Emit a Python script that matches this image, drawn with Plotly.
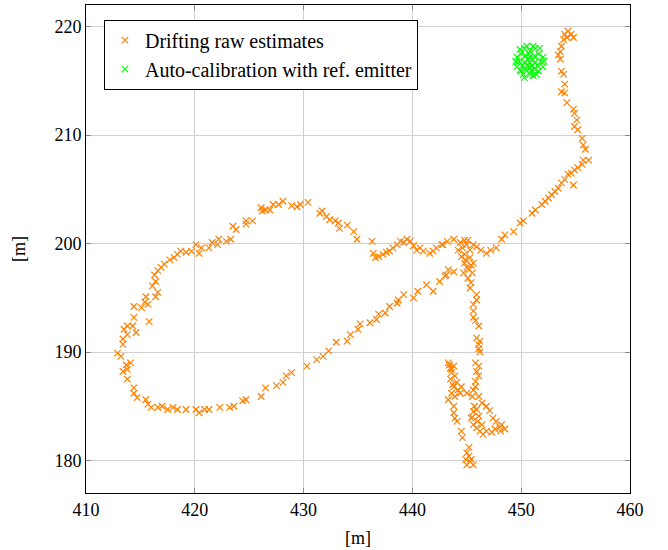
import plotly.graph_objects as go

raw_pts = [
    # top right descent
    (454.3,219.6),(454.6,219.3),(454.0,219.3),(454.8,219.0),(453.9,218.8),(454.2,219.0),(453.7,218.2),
    (453.6,217.7),(453.4,217.4),(453.6,217.0),(453.7,215.9),(453.9,215.6),(454.0,214.7),(453.7,214.0),
    (454.0,213.9),(454.2,213.0),(454.8,212.4),(454.9,212.0),(455.1,211.4),(454.9,210.8),(455.2,210.5),
    (455.6,209.7),(455.7,209.1),(455.9,208.7),(456.2,207.7),(455.7,207.7),(455.6,207.3),(455.2,207.0),
    (454.9,206.8),(454.6,206.5),(454.3,206.4),(454.0,205.9),(453.7,205.6),(454.8,205.4),(453.4,205.1),
    (453.1,204.8),(452.8,204.5),(452.5,204.2),(452.2,203.9),(451.9,203.6),(451.3,203.1),(451.0,202.8),
    (450.2,202.1),(449.9,201.9),(449.3,201.1),(448.5,200.8),(448.2,200.4),(447.7,199.6),(447.2,199.4),
    (446.8,199.1),(446.3,199.4),(445.9,199.7),
    # junction and leftwards along the top
    (445.6,199.9),(445.3,199.4),(445.0,199.9),(444.4,200.1),(443.8,200.4),(444.8,200.3),(443.2,200.2),
    (442.8,199.9),(442.7,199.9),(442.2,199.6),(441.9,199.3),(441.6,199.1),(441.0,199.3),(440.7,199.6),
    (440.4,199.4),(440.1,199.8),(439.8,200.2),(439.5,200.4),(439.2,200.1),(438.9,200.2),(438.6,199.9),
    (438.2,199.6),(437.9,199.3),(437.6,199.2),(437.3,199.0),(436.9,198.8),(436.6,198.7),(436.4,199.1),
    (436.3,200.2),(434.9,200.4),(434.6,201.1),(434.0,201.7),(433.3,201.4),(433.2,201.9),(432.9,202.1),
    (432.4,202.2),(432.1,202.5),(431.7,203.0),(431.5,202.8),(430.4,203.8),(429.7,203.6),(429.4,203.4),
    (428.9,203.5),(428.1,203.9),(427.7,203.6),(427.2,203.6),(426.9,203.1),(426.5,203.1),(426.1,203.3),
    (426.2,203.0),(425.3,202.1),(424.7,202.1),(424.7,201.8),(423.8,201.3),(423.5,201.6),(423.3,200.4),
    (422.9,200.2),(422.2,200.4),(422.1,199.9),(421.6,200.1),(421.3,199.6),(420.6,199.6),(420.4,199.1),
    (420.1,199.9),(419.7,199.3),(419.2,199.2),(418.7,199.3),(418.4,199.0),(418.1,198.7),(417.7,198.5),
    (417.2,198.1),(416.9,197.8),(416.6,197.5),(416.3,197.1),(416.4,196.5),(416.1,196.1),(416.6,195.5),
    (416.4,195.1),(415.5,195.1),(415.4,194.6),(415.7,194.4),(415.1,194.1),(414.4,194.2),(414.4,193.2),
    (415.8,192.8),(413.8,192.4),(414.3,192.4),(413.5,192.1),(414.6,191.8),(413.8,191.6),(413.4,191.2),
    (413.4,190.7),(412.9,189.9),(413.2,189.6),(413.7,188.8),(414.1,189.0),(413.4,188.2),(413.8,188.4),
    (413.8,187.5),(414.4,186.7),(414.4,186.2),(414.7,185.8),(415.5,185.6),(415.7,185.2),(416.0,184.9),
    (416.6,184.9),(417.0,185.0),(417.5,184.7),(418.0,184.9),(418.4,184.7),(419.2,184.7),(420.1,184.7),
    (420.4,184.4),(420.9,184.7),(421.3,184.7),(422.3,184.9),(423.2,184.9),(423.6,185.0),(424.4,185.5),
    (424.7,185.6),(426.1,185.9),(426.5,186.7),(427.5,186.9),(428.1,187.2),(428.4,187.8),(428.9,188.1),
    (430.3,188.7),(431.2,189.3),(431.8,189.6),(432.3,190.1),(433.0,190.9),(434.0,191.0),(434.3,191.6),
    (435.0,192.1),(435.2,192.6),(436.1,192.7),(436.7,193.0),(436.9,193.5),(437.5,193.6),(437.9,194.2),
    (438.6,194.5),(438.7,194.8),(439.2,195.3),(440.1,195.0),(440.5,195.6),(441.3,196.2),(441.9,195.6),
    (442.5,196.5),(443.1,197.1),(443.3,197.6),(443.0,197.0),(443.8,197.4),(444.7,197.3),
    # dense junction
    (444.5,198.8),(444.8,199.0),(445.3,198.7),(444.8,198.2),(445.6,198.2),(445.0,197.8),(445.5,197.3),
    (444.6,199.6),(445.1,200.3),(444.2,199.4),(445.4,198.0),(444.9,198.5),(445.2,197.6),
    # descent along x~446
    (445.1,196.8),(445.4,196.4),(445.3,195.9),(445.9,195.3),(445.9,194.8),(445.6,194.4),(445.6,193.8),
    (445.6,193.2),(445.8,192.9),(446.1,192.4),(445.9,191.3),(446.2,191.0),(446.1,190.7),(446.1,190.3),
    (446.2,190.0),(445.8,189.0),(446.1,188.7),(445.9,188.2),(446.1,187.8),(445.8,187.3),(445.8,186.8),
    (445.6,186.5),(446.1,185.9),(446.4,185.3),(446.8,185.0),(447.1,184.6),(447.4,183.9),(447.7,183.6),
    (448.2,183.3),(448.5,182.9),(448.1,182.7),(447.6,182.9),(447.3,182.6),(446.8,182.7),(446.5,182.4),
    (446.2,182.7),(445.9,183.0),(445.6,183.3),(445.4,183.9),(445.6,184.5),(445.9,184.7),(446.1,184.1),
    (446.4,183.3),(445.7,185.0),(445.5,184.0),(446.0,183.6),(448.0,183.1),
    # left cluster
    (443.3,189.0),(443.5,188.5),(443.8,188.7),(443.6,188.1),(443.9,187.8),(443.5,187.5),(444.1,187.2),
    (443.8,186.8),(444.5,186.8),(444.4,186.2),(443.6,186.2),(443.9,185.9),(443.3,185.6),(445.0,186.2),
    (445.5,185.9),(443.4,188.8),(443.7,187.0),(444.2,186.5),(443.6,188.4),
    # down to the bottom
    (443.8,185.0),(443.8,184.4),(443.9,183.9),(444.1,183.6),(444.5,182.7),(444.6,182.1),(445.2,181.2),
    (445.0,180.7),(444.9,180.1),(445.4,180.1),(445.6,179.6),(445.0,179.6),(445.3,179.9),(445.2,180.4),
]
raw_x = [p[0] for p in raw_pts]
raw_y = [p[1] for p in raw_pts]

ref_pts = [
    (450.8,216.7),(450.3,216.7),(451.3,216.7),(450.8,217.2),(450.8,216.2),(450.4,217.3),(451.2,217.3),
    (450.4,216.1),(451.2,216.1),(449.8,216.8),(451.8,216.8),(450.0,217.5),(451.6,217.5),(450.0,215.9),
    (451.6,215.9),(450.8,217.8),(450.8,215.6),(450.3,218.0),(451.3,218.0),(450.2,215.6),(451.4,215.6),
    (449.6,217.2),(452.0,217.2),(449.6,216.3),(452.0,216.3),(449.5,216.8),(451.0,216.9),(450.6,216.5),
    (450.6,217.0),(451.0,216.4),(450.9,215.9),(450.7,217.5),(449.9,217.9),(451.7,218.0),(451.1,215.5),
    (449.9,216.0),(452.1,216.8),(451.5,216.4),(450.1,216.4),(450.5,218.2),(451.1,218.2),(450.3,215.3),
]
ref_x = [p[0] for p in ref_pts]
ref_y = [p[1] for p in ref_pts]

x_ticks = [410, 420, 430, 440, 450, 460]
y_ticks = [180, 190, 200, 210, 220]

SERIF = "Liberation Serif, Times New Roman, serif"

fig = go.Figure()
fig.add_trace(go.Scatter(
    x=raw_x, y=raw_y, mode="markers", name="Drifting raw estimates",
    marker=dict(symbol="x-thin", size=6.5, line=dict(width=1.2, color="#ff8000"), color="#ff8000"),
))
fig.add_trace(go.Scatter(
    x=ref_x, y=ref_y, mode="markers", name="Auto-calibration with ref. emitter",
    marker=dict(symbol="x-thin", size=6.5, line=dict(width=1.2, color="#00ff00"), color="#00ff00"),
))

axis_common = dict(
    showgrid=True, gridcolor="#d0d0d0", gridwidth=1,
    showline=True, linecolor="black", linewidth=1, mirror="allticks",
    ticks="inside", ticklen=5, tickcolor="#8a8a8a",
    zeroline=False,
    tickfont=dict(family=SERIF, size=18, color="black"),
    title_font=dict(family=SERIF, size=18, color="black"),
)

fig.update_xaxes(range=[410, 460], tickvals=x_ticks, title_text="[m]", title_standoff=12, **axis_common)
fig.update_yaxes(range=[177, 222], tickvals=y_ticks, title_text="[m]", title_standoff=24, **axis_common)

fig.update_layout(
    width=668, height=550,
    margin=dict(l=86, r=38, t=5, b=57),
    plot_bgcolor="white", paper_bgcolor="white",
    legend=dict(
        x=0.033, y=0.97, xanchor="left", yanchor="top",
        bgcolor="white", bordercolor="black", borderwidth=1,
        font=dict(family=SERIF, size=20, color="black"),
        itemwidth=30, tracegroupgap=0,
    ),
    showlegend=True,
)

fig.write_html("out.html")
